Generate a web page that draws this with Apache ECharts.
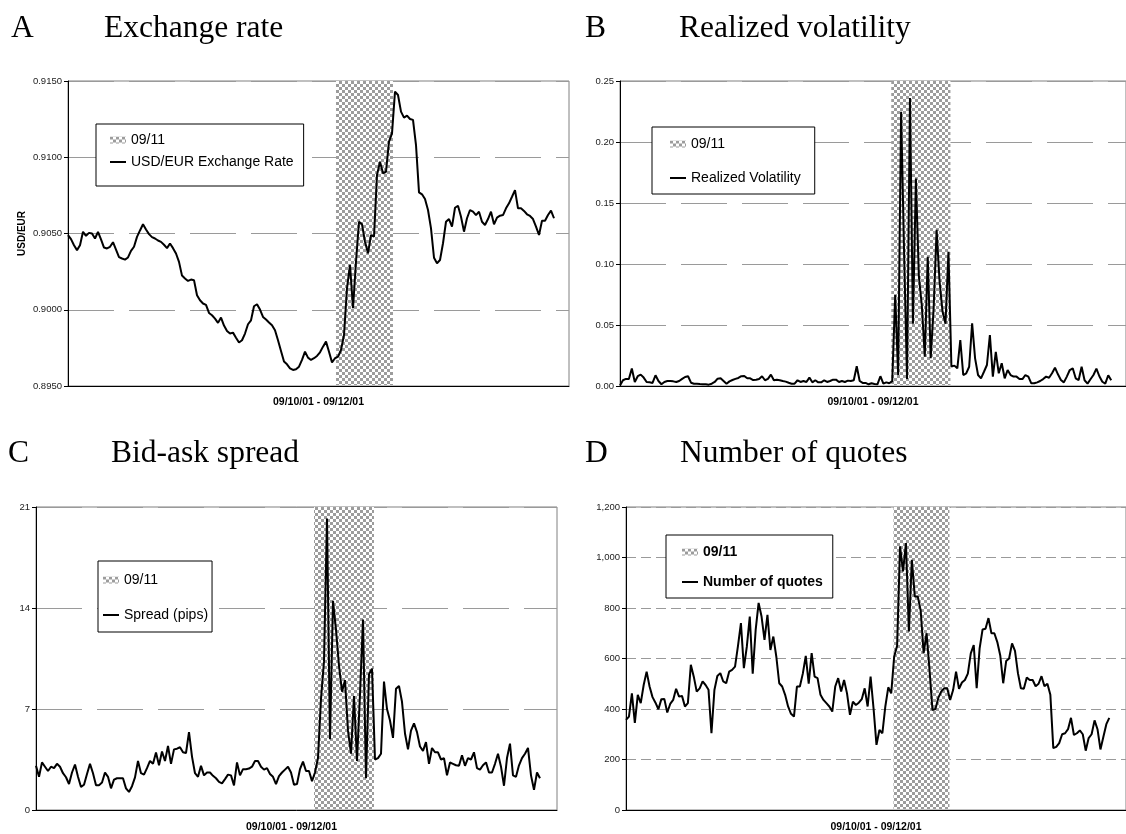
<!DOCTYPE html>
<html>
<head>
<meta charset="utf-8">
<script src="https://cdn.jsdelivr.net/npm/echarts@6/dist/echarts.min.js"></script>
<style>
html,body{margin:0;padding:0;background:#fff;}
#c{width:1126px;height:834px;}
</style>
</head>
<body>
<div id="c"></div>
<script>
// ---------------- DATA ----------------
const xAxisName = '09/10/01 - 09/12/01';
const eventLabel = '09/11';

// Panel A: USD/EUR exchange rate
const exchangeRate = [
0.90489,0.90463,0.90423,0.90391,0.90423,0.90511,0.90485,0.90504,0.90500,0.90467,
0.90511,0.90461,0.90408,0.90402,0.90413,0.90443,0.90395,0.90345,0.90336,0.90329,
0.90343,0.90386,0.90413,0.90478,0.90520,0.90561,0.90526,0.90496,0.90476,0.90467,
0.90454,0.90445,0.90426,0.90404,0.90434,0.90404,0.90369,0.90314,0.90224,0.90205,
0.90189,0.90198,0.90194,0.90095,0.90062,0.90041,0.90032,0.89979,0.89964,0.89942,
0.89914,0.89949,0.89896,0.89861,0.89844,0.89850,0.89817,0.89785,0.89800,0.89844,
0.89905,0.89931,0.90023,0.90036,0.90001,0.89953,0.89936,0.89916,0.89898,0.89866,
0.89800,0.89730,0.89660,0.89642,0.89616,0.89605,0.89610,0.89627,0.89671,0.89725,
0.89686,0.89671,0.89682,0.89697,0.89721,0.89758,0.89791,0.89725,0.89655,0.89682,
0.89692,0.89736,0.89834,0.90141,0.90294,0.90010,0.90315,0.90577,0.90560,0.90446,
0.90370,0.90490,0.90479,0.90884,0.90971,0.90895,0.90905,0.91102,0.91157,0.91430,
0.91408,0.91299,0.91260,0.91273,0.91251,0.91245,0.91080,0.90770,0.90757,0.90726,
0.90654,0.90534,0.90341,0.90305,0.90326,0.90436,0.90577,0.90595,0.90545,0.90669,
0.90682,0.90610,0.90512,0.90600,0.90654,0.90643,0.90621,0.90643,0.90577,0.90556,
0.90595,0.90643,0.90560,0.90604,0.90617,0.90621,0.90665,0.90698,0.90741,0.90785,
0.90665,0.90665,0.90648,0.90626,0.90615,0.90595,0.90545,0.90490,0.90584,0.90584,
0.90621,0.90650,0.90600
];

// Panel B: realized volatility
const realizedVol = [
0.0005,0.0047,0.0058,0.0058,0.0143,0.0033,0.0080,0.0093,0.0069,0.0033,
0.0030,0.0025,0.0088,0.0041,0.0014,0.0033,0.0041,0.0041,0.0038,0.0033,
0.0041,0.0058,0.0074,0.0080,0.0027,0.0019,0.0019,0.0016,0.0014,0.0014,
0.0011,0.0019,0.0033,0.0060,0.0063,0.0041,0.0019,0.0038,0.0049,0.0058,
0.0066,0.0080,0.0082,0.0063,0.0063,0.0049,0.0052,0.0058,0.0080,0.0047,
0.0058,0.0093,0.0047,0.0052,0.0047,0.0041,0.0036,0.0027,0.0019,0.0019,
0.0047,0.0033,0.0041,0.0033,0.0069,0.0030,0.0047,0.0030,0.0030,0.0047,
0.0033,0.0041,0.0052,0.0052,0.0033,0.0041,0.0033,0.0044,0.0041,0.0047,
0.0162,0.0041,0.0025,0.0025,0.0014,0.0022,0.0016,0.0014,0.0080,0.0019,
0.0030,0.0022,0.0040,0.0746,0.0090,0.2248,0.1100,0.0057,0.2360,0.0510,
0.1700,0.0900,0.0660,0.0240,0.1060,0.0227,0.0640,0.1280,0.0855,0.0610,
0.0510,0.1100,0.0160,0.0167,0.0145,0.0377,0.0090,0.0104,0.0158,0.0514,
0.0227,0.0090,0.0063,0.0117,0.0172,0.0418,0.0077,0.0280,0.0104,0.0186,
0.0063,0.0131,0.0090,0.0077,0.0077,0.0057,0.0057,0.0090,0.0077,0.0022,
0.0022,0.0030,0.0041,0.0057,0.0077,0.0068,0.0104,0.0150,0.0096,0.0049,
0.0030,0.0077,0.0131,0.0145,0.0063,0.0049,0.0158,0.0047,0.0020,0.0055,
0.0090,0.0143,0.0080,0.0035,0.0020,0.0088,0.0047
];

// Panel C: bid-ask spread (pips)
const spread = [
3.06,2.3,3.3,3.0,2.7,3.0,2.9,3.2,3.0,2.55,
2.27,1.8,2.6,3.15,2.3,1.6,1.75,2.5,3.2,2.55,
1.72,1.72,1.9,2.6,2.3,1.5,2.1,2.2,2.2,2.2,
1.5,1.25,1.65,2.26,3.4,2.55,2.45,2.9,3.4,3.2,
3.98,3.1,4.05,3.4,4.44,3.2,4.2,4.25,4.35,4.0,
3.95,5.4,3.7,2.55,2.3,3.06,2.4,2.6,2.6,2.37,
2.2,1.95,1.85,2.14,2.45,2.4,1.7,3.3,2.4,2.83,
2.83,2.87,3.0,3.4,3.4,3.0,2.8,2.9,2.5,2.3,
1.8,2.35,2.6,2.8,3.0,2.6,1.75,1.8,2.83,3.35,
2.7,2.7,2.0,2.6,3.6,7.7,10.3,20.2,4.9,14.5,
12.5,10.0,8.2,9.0,5.5,3.9,7.9,3.4,8.0,13.2,
2.2,9.4,9.8,3.5,3.6,3.9,8.9,7.0,6.2,5.0,
8.4,8.6,7.5,5.3,4.2,5.5,6.0,5.4,4.4,4.1,
4.7,3.2,4.3,4.0,4.0,3.5,3.6,2.4,3.29,3.2,
3.1,3.06,3.8,3.06,3.6,3.5,4.0,2.9,2.8,3.1,
3.3,2.6,2.6,3.2,3.9,3.0,1.68,3.6,4.6,2.4,
2.3,3.1,3.6,3.9,4.3,2.4,1.4,2.6,2.2
];

// Panel D: number of quotes
const quotes = [
357,370,462,345,456,423,495,548,489,447,
425,399,439,440,386,420,436,480,449,452,
410,423,575,528,469,482,509,495,476,304,
475,531,542,509,502,548,555,568,650,740,
562,647,766,540,713,820,766,674,773,634,
687,608,502,489,456,410,381,370,489,489,
540,610,500,621,528,522,456,436,423,410,
390,489,522,469,515,462,377,429,416,425,
439,482,410,528,403,258,317,304,410,486,
462,608,650,1044,945,1057,707,991,846,846,
790,621,700,555,396,400,445,470,482,482,
436,475,548,480,505,515,540,620,653,482,
640,715,718,760,700,700,665,612,502,590,
600,660,630,542,482,480,525,515,515,490,
500,530,490,500,456,245,250,265,300,304,
320,365,297,304,315,300,235,285,300,355,
320,240,290,340,365
];

// 09/11 event span, in observation-index units of each panel
const eventSpanA = [89.33, 108.33];
const eventSpanB = [91.67, 111.67];
const eventSpanC = [92.67, 112.67];
const eventSpanD = [90.77, 109.77];

// y-axis scales
const yScaleA = {min: 0.895, max: 0.915, interval: 0.005};
const yScaleB = {min: 0, max: 0.25, interval: 0.05};
const yScaleC = {min: 0, max: 21, interval: 7};
const yScaleD = {min: 0, max: 1200, interval: 200};

const seriesNames = ['USD/EUR Exchange Rate', 'Realized Volatility', 'Spread (pips)', 'Number of quotes'];
const panelLetters = ['A', 'B', 'C', 'D'];
const panelTitles = ['Exchange rate', 'Realized volatility', 'Bid-ask spread', 'Number of quotes'];

// ---------------- CHART ----------------
const pc = document.createElement('canvas');
pc.width = 6; pc.height = 6;
const pctx = pc.getContext('2d');
pctx.fillStyle = '#ffffff'; pctx.fillRect(0, 0, 6, 6);
pctx.fillStyle = '#9c9c9c'; pctx.fillRect(0, 0, 3, 3); pctx.fillRect(3, 3, 3, 3);
const checker = {image: pc, repeat: 'repeat'};

const SANS = "'Liberation Sans', Arial, sans-serif";
const SERIF = "'Liberation Serif', 'Times New Roman', serif";

const grids = [
  {left: 68, top: 81, width: 501, height: 305},
  {left: 620, top: 81, width: 513, height: 305},
  {left: 36, top: 507, width: 521, height: 304},
  {left: 626, top: 507, width: 509, height: 303}
];
const xMax = [167, 171, 173.67, 169.67];
const xNameGap = [11, 11, 12, 12];
const dataSets = [exchangeRate, realizedVol, spread, quotes];
const spans = [eventSpanA, eventSpanB, eventSpanC, eventSpanD];
const yScales = [yScaleA, yScaleB, yScaleC, yScaleD];
const yFmt = [
  v => v.toFixed(4),
  v => v.toFixed(2),
  v => String(Math.round(v)),
  v => Math.round(v).toLocaleString('en-US')
];
const dashTypes = [[46, 15], [46, 15], [46, 15], [10, 5]];

const titles = [];
const titlePos = [
  {lx: 11, tx: 104, top: 13},
  {lx: 585, tx: 679, top: 13},
  {lx: 8, tx: 111, top: 438},
  {lx: 585, tx: 680, top: 438}
];
titlePos.forEach((p, i) => {
  const ts = {fontFamily: SERIF, fontSize: 31.5, fontWeight: 'normal', color: '#000'};
  titles.push({text: panelLetters[i], left: p.lx, top: p.top, padding: 0, textStyle: ts});
  titles.push({text: panelTitles[i], left: p.tx, top: p.top, padding: 0, textStyle: ts});
});

const xAxes = grids.map((g, i) => ({
  type: 'value', gridIndex: i, min: 0, max: xMax[i],
  axisLabel: {show: false}, axisTick: {show: false}, splitLine: {show: false},
  axisLine: {show: true, onZero: false, lineStyle: {color: '#000', width: 1}},
  name: xAxisName, nameLocation: 'middle', nameGap: xNameGap[i],
  nameTextStyle: {fontFamily: SANS, fontWeight: 'bold', fontSize: 10.5, color: '#000',
                  padding: i === 2 ? [0, 10, 0, 0] : 0}
}));

const yAxes = grids.map((g, i) => {
  const ax = {
    type: 'value', gridIndex: i,
    min: yScales[i].min, max: yScales[i].max, interval: yScales[i].interval,
    axisLine: {show: true, lineStyle: {color: '#000', width: 1}},
    axisTick: {show: true, length: 4, lineStyle: {color: '#000'}},
    axisLabel: {fontFamily: SANS, fontSize: 9.5, color: '#222', margin: 6, formatter: yFmt[i]},
    splitLine: {show: true, lineStyle: {color: '#9a9a9a', width: 1, type: dashTypes[i]}}
  };
  if (i === 0) {
    ax.name = 'USD/EUR';
    ax.nameLocation = 'middle';
    ax.nameRotate = 90;
    ax.nameGap = 41;
    ax.nameTextStyle = {fontFamily: SANS, fontWeight: 'bold', fontSize: 10, color: '#000'};
  }
  return ax;
});

const series = [];
dataSets.forEach((arr, i) => {
  series.push({
    type: 'custom', name: eventLabel, xAxisIndex: i, yAxisIndex: i,
    data: [[spans[i][0], spans[i][1], yScales[i].min]],
    encode: {x: [0, 1], y: 2},
    itemStyle: {color: checker},
    silent: true, z: 1,
    renderItem: function (params, api) {
      const cs = params.coordSys;
      const x0 = api.coord([api.value(0), api.value(2)])[0];
      const x1 = api.coord([api.value(1), api.value(2)])[0];
      return {type: 'rect', shape: {x: x0, y: cs.y, width: x1 - x0, height: cs.height - 1},
              style: {fill: checker}};
    }
  });
  series.push({
    type: 'line', name: seriesNames[i], xAxisIndex: i, yAxisIndex: i,
    data: arr.map((v, k) => [k, v]),
    showSymbol: false, symbol: 'none', z: 3,
    lineStyle: {color: '#000', width: 2},
    itemStyle: {color: '#000'}
  });
});

const lineIcon = 'path://M0,0L16,0L16,2L0,2Z';
const legendCfg = [
  {left: 96, top: 124, padding: [8, 10, 16, 14], itemGap: 6, bold: false},
  {left: 652, top: 127, padding: [9, 14, 8, 18], itemGap: 18, bold: false},
  {left: 98, top: 561, padding: [11, 4, 9, 5], itemGap: 19, bold: false},
  {left: 666, top: 535, padding: [9, 10, 8, 16], itemGap: 14, bold: true}
];
const legends = legendCfg.map((c, i) => ({
  orient: 'vertical', left: c.left, top: c.top, padding: c.padding, itemGap: c.itemGap,
  backgroundColor: '#fff', borderColor: '#000', borderWidth: 1,
  itemWidth: 16, itemHeight: 7, selectedMode: false, symbolKeepAspect: true,
  textStyle: {fontFamily: SANS, fontSize: 14, lineHeight: 16, color: '#000',
              fontWeight: c.bold ? 'bold' : 'normal'},
  data: [
    {name: eventLabel, icon: 'rect', itemStyle: {color: checker}},
    {name: seriesNames[i], icon: lineIcon, itemStyle: {color: '#000'}}
  ]
}));

const chart = echarts.init(document.getElementById('c'), null, {renderer: 'canvas'});
chart.setOption({
  animation: false,
  backgroundColor: '#fff',
  title: titles,
  grid: grids.map(g => Object.assign({show: true, borderColor: '#808080', borderWidth: 1, backgroundColor: 'transparent'}, g)),
  xAxis: xAxes,
  yAxis: yAxes,
  legend: legends,
  series: series
});
</script>
</body>
</html>
